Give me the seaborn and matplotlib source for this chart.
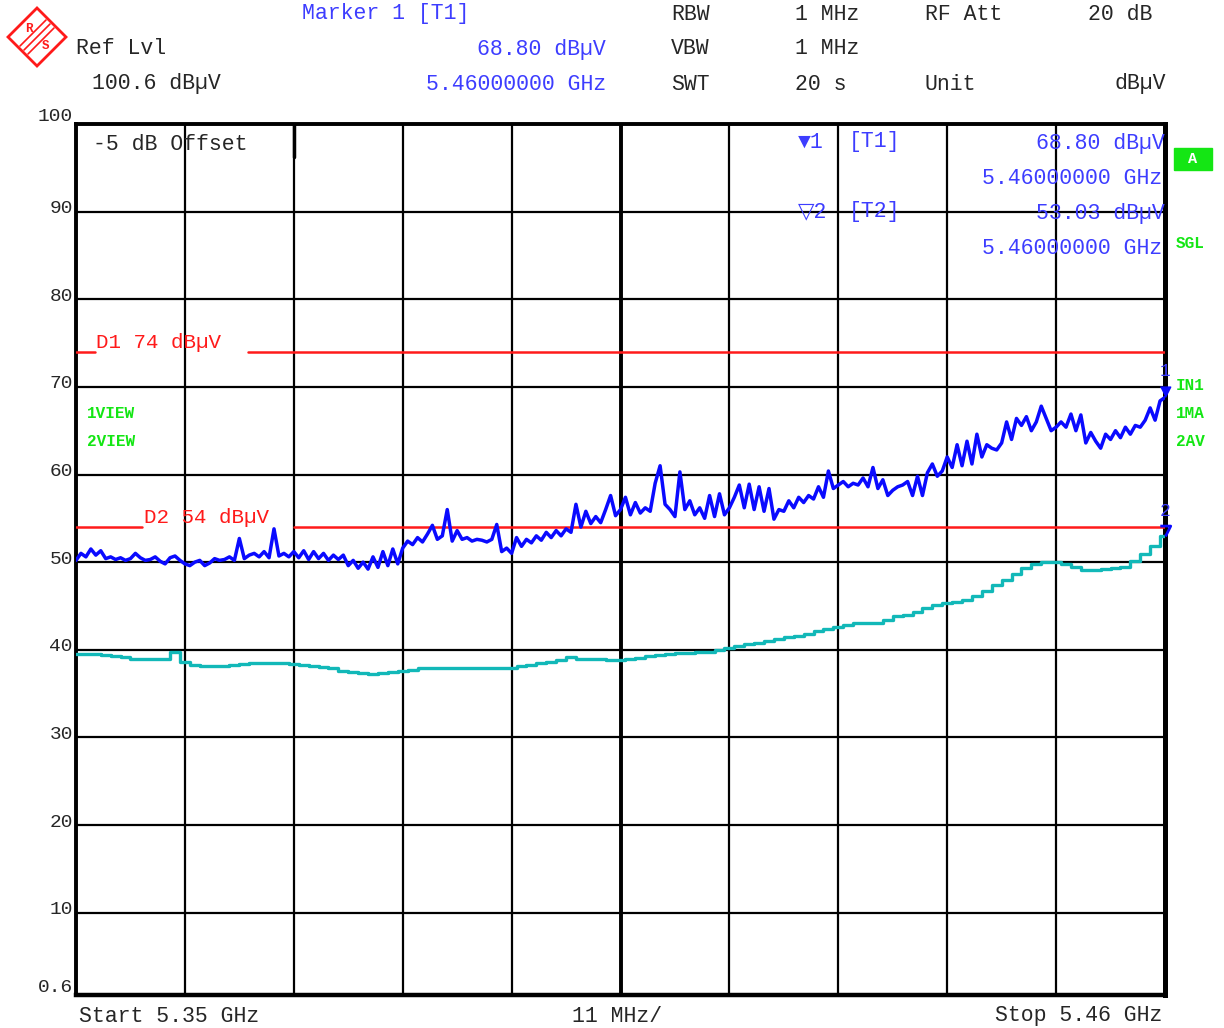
"""
Spectrum analyzer screen shot, 5.35 - 5.46 GHz band edge scan (peak + average).
"""

import numpy as np
import pandas as pd
import seaborn as sns
import matplotlib.pyplot as plt
from matplotlib.patches import Polygon, Rectangle


# sweep: 5350 .. 5460 MHz
freq_peak = np.linspace(5350, 5460, 221)      # 0.5 MHz per point
peak_db = [
    50.2, 51.0, 50.6, 51.5, 50.8, 51.3, 50.4, 50.6, 50.3, 50.5, 50.2, 50.4, 51.0, 50.5, 50.2, 50.3, 50.6, 50.1, 49.8, 50.5, 50.7, 50.2,
    49.8, 49.6, 50.0, 50.2, 49.6, 49.9, 50.4, 50.2, 50.3, 50.6, 50.2, 52.7, 50.4, 50.8, 51.0, 50.6, 51.2, 50.5, 53.8, 50.7, 51.0, 50.6,
    51.2, 50.5, 51.3, 50.3, 51.2, 50.4, 51.0, 50.2, 50.8, 50.3, 50.8, 49.6, 50.2, 49.3, 50.0, 49.2, 50.6, 49.4, 51.2, 49.6, 51.5, 49.8,
    51.6, 52.4, 52.0, 52.8, 52.3, 53.2, 54.2, 52.6, 53.0, 56.0, 52.4, 53.6, 52.6, 52.8, 52.4, 52.6, 52.5, 52.3, 52.6, 54.3, 51.2, 51.6,
    51.0, 52.8, 51.8, 52.6, 52.2, 53.0, 52.5, 53.4, 52.8, 53.6, 53.0, 53.8, 53.4, 56.6, 54.0, 55.8, 54.4, 55.2, 54.5, 56.0, 57.6, 55.3,
    56.0, 57.4, 55.4, 56.8, 55.6, 56.2, 55.8, 59.0, 61.0, 56.6, 56.0, 55.2, 60.3, 56.0, 57.0, 55.4, 56.2, 55.0, 57.6, 55.2, 57.8, 55.4,
    56.2, 57.4, 58.8, 56.2, 58.9, 56.0, 58.6, 55.8, 58.4, 54.9, 56.0, 55.8, 57.0, 56.2, 57.4, 56.8, 57.6, 57.2, 58.6, 57.4, 60.4, 58.4,
    58.8, 59.2, 58.6, 59.0, 58.8, 59.6, 58.6, 60.8, 58.4, 59.4, 57.6, 58.2, 58.6, 58.8, 59.2, 57.6, 59.8, 57.6, 60.2, 61.2, 59.8, 60.4,
    62.0, 60.8, 63.4, 61.0, 63.8, 61.2, 64.6, 62.0, 63.4, 63.0, 62.8, 63.6, 66.0, 64.0, 66.4, 65.6, 66.6, 65.0, 66.0, 67.8, 66.4, 65.0,
    65.4, 66.0, 65.4, 66.9, 65.0, 66.8, 63.6, 64.8, 63.8, 63.0, 64.6, 64.0, 65.0, 64.2, 65.4, 64.6, 65.6, 65.4, 66.2, 67.6, 66.2, 68.4, 68.8,
]

freq_avg = np.arange(5350, 5461, 1)           # 1 MHz per point
avg_db = [
    39.5, 39.5, 39.5, 39.4, 39.3, 39.2, 39.0, 38.9, 38.9, 38.9, 39.8,
    38.6, 38.3, 38.2, 38.2, 38.2, 38.3, 38.4, 38.5, 38.5, 38.5, 38.5,
    38.4, 38.3, 38.2, 38.0, 37.9, 37.6, 37.5, 37.3, 37.2, 37.3, 37.5,
    37.6, 37.7, 37.9, 37.9, 37.9, 37.9, 37.9, 37.9, 37.9, 37.9, 37.9,
    37.9, 38.1, 38.3, 38.5, 38.6, 38.8, 39.2, 38.9, 38.9, 38.9, 38.8,
    38.8, 38.9, 39.1, 39.3, 39.4, 39.5, 39.6, 39.6, 39.7, 39.8, 40.0,
    40.2, 40.4, 40.6, 40.8, 41.0, 41.2, 41.4, 41.6, 41.8, 42.1, 42.4,
    42.6, 42.8, 43.0, 43.0, 43.1, 43.4, 43.8, 44.0, 44.3, 44.8, 45.1,
    45.3, 45.5, 45.7, 46.1, 46.7, 47.4, 48.0, 48.7, 49.3, 49.8, 50.0,
    50.0, 49.8, 49.4, 49.1, 49.1, 49.2, 49.3, 49.5, 50.1, 50.9, 51.8,
    53.0,
]

grid_freq = np.arange(5350, 5461, 11)         # 11 MHz / div
level_ticks = [10, 20, 30, 40, 50, 60, 70, 80, 90]
limit_d1 = 74
limit_d2 = 54
marker_freq = 5460
marker1_db = 68.80
marker2_db = 53.03

MONO = 'Liberation Mono'
BLUE_TXT = '#3d3dff'
BLUE = '#0a0aff'
CYAN = '#12b8b8'
RED = '#ff1a1a'
GREEN = '#14e614'
DARK = '#262626'
HDR_FS = 15.5


def fx(px):
    return px / 1224.0


def fy(py):
    return 1 - py / 1028.0


sns.set_theme(style='white')
plt.rcParams['font.family'] = [MONO, 'DejaVu Sans']

fig = plt.figure(figsize=(12.24, 10.28), dpi=100)
ax = fig.add_axes([fx(76), fy(995), fx(1165) - fx(76), fy(124) - fy(995)])

df_pk = pd.DataFrame({'freq': freq_peak, 'level': peak_db})
df_av = pd.DataFrame({'freq': freq_avg, 'level': avg_db})

sns.lineplot(data=df_av, x='freq', y='level', ax=ax, color=CYAN, lw=2.4,
             drawstyle='steps-mid', zorder=4)
sns.lineplot(data=df_pk, x='freq', y='level', ax=ax, color=BLUE, lw=2.5, zorder=5)

ax.set_xlim(5350, 5460)
ax.set_ylim(0.6, 100)
ax.set_xticks(grid_freq)
ax.set_yticks(level_ticks + [100])
ax.set_xticklabels([])
ax.set_yticklabels([])
ax.tick_params(length=0)
ax.set_xlabel('')
ax.set_ylabel('')
ax.grid(True, color='black', lw=1.6)
ax.axvline(5405, color='black', lw=2.8, zorder=1)
for s in ax.spines.values():
    s.set_color('black')
    s.set_linewidth(2.8)
ax.spines['bottom'].set_linewidth(3.2)
ax.spines['right'].set_linewidth(3.6)

# display lines D1 / D2, broken where the label sits
ax.axhline(limit_d1, xmin=0, xmax=0.017, color=RED, lw=1.8, zorder=3)
ax.axhline(limit_d1, xmin=0.158, xmax=1, color=RED, lw=1.8, zorder=3)
ax.axhline(limit_d2, xmin=0, xmax=0.061, color=RED, lw=1.8, zorder=3)
ax.axhline(limit_d2, xmin=0.200, xmax=1, color=RED, lw=1.8, zorder=3)
ax.text(0.0185, limit_d1, 'D1 74 dBµV', transform=ax.get_yaxis_transform(),
        color=RED, fontsize=15, va='bottom', ha='left')
ax.text(0.062, limit_d2, 'D2 54 dBµV', transform=ax.get_yaxis_transform(),
        color=RED, fontsize=15, va='bottom', ha='left')

# level labels, a little above the grid lines
for v in level_ticks:
    ax.annotate(str(v), xy=(0, v), xycoords=('axes fraction', 'data'),
                xytext=(-3, 3), textcoords='offset pixels',
                ha='right', va='center', fontsize=14, color=DARK)
ax.annotate('100', xy=(0, 100), xycoords=('axes fraction', 'data'),
            xytext=(-3, 7), textcoords='offset pixels',
            ha='right', va='center', fontsize=14, color=DARK)
ax.annotate('0.6', xy=(0, 0.6), xycoords=('axes fraction', 'data'),
            xytext=(-3, 7), textcoords='offset pixels',
            ha='right', va='center', fontsize=14, color=DARK)

# trace markers at the stop frequency (tip on the value)
tri = [(-0.55, 1.1), (0.55, 1.1), (0, 0)]
ax.plot([marker_freq], [marker1_db], marker=tri, ms=15, color=BLUE,
        clip_on=False, zorder=6, ls='none')
ax.plot([marker_freq], [marker2_db], marker=tri, ms=15, mfc='none', mec=BLUE,
        mew=2, clip_on=False, zorder=6, ls='none')
ax.annotate('1', xy=(marker_freq, marker1_db), xytext=(0, 26), textcoords='offset pixels',
            ha='center', va='center', color=BLUE_TXT, fontsize=13)
ax.annotate('2', xy=(marker_freq, marker2_db), xytext=(0, 24), textcoords='offset pixels',
            ha='center', va='center', color=BLUE_TXT, fontsize=13)

# marker field inside the diagram
ax.text(0.0155, 0.988, '-5 dB Offset', transform=ax.transAxes, fontsize=HDR_FS,
        color=DARK, ha='left', va='top')
ax.plot([0.2, 0.2], [1, 0.962], transform=ax.transAxes, color='black', lw=2.5)
mk_txt = [
    (798, 142, '▼1', 'left'), (849, 142, '[T1]', 'left'),
    (1165, 143, '68.80 dBµV', 'right'), (1162, 178, '5.46000000 GHz', 'right'),
    (798, 212, '▽2', 'left'), (849, 212, '[T2]', 'left'),
    (1165, 213, '53.03 dBµV', 'right'), (1162, 248, '5.46000000 GHz', 'right'),
]
for px, py, t, ha in mk_txt:
    fig.text(fx(px), fy(py), t, color=BLUE_TXT, fontsize=HDR_FS, ha=ha, va='center', zorder=10)

# green status labels
for px, py, t in [(87, 414, '1VIEW'), (87, 442, '2VIEW'), (1176, 243, 'SGL'),
                  (1176, 385, 'IN1'), (1176, 414, '1MA'), (1176, 442, '2AV')]:
    fig.text(fx(px), fy(py), t, color=GREEN, fontsize=11.5, fontweight='bold',
             ha='left', va='center')
fig.add_artist(Rectangle((fx(1174), fy(170)), fx(38), 22 / 1028.0,
                         transform=fig.transFigure, color=GREEN))
fig.text(fx(1193), fy(159), 'A', color='white', fontsize=11, fontweight='bold',
         ha='center', va='center')

# header
hdr = [
    (302, 14, 'Marker 1 [T1]', 'left', BLUE_TXT),
    (76, 49, 'Ref Lvl', 'left', DARK),
    (606, 49, '68.80 dBµV', 'right', BLUE_TXT),
    (92, 84, '100.6 dBµV', 'left', DARK),
    (606, 84, '5.46000000 GHz', 'right', BLUE_TXT),
    (671, 14, 'RBW', 'left', DARK), (795, 14, '1 MHz', 'left', DARK),
    (925, 14, 'RF Att', 'left', DARK), (1152, 14, '20 dB', 'right', DARK),
    (671, 49, 'VBW', 'left', DARK), (795, 49, '1 MHz', 'left', DARK),
    (671, 84, 'SWT', 'left', DARK), (795, 84, '20 s', 'left', DARK),
    (925, 84, 'Unit', 'left', DARK), (1166, 84, 'dBµV', 'right', DARK),
]
for px, py, t, ha, c in hdr:
    fig.text(fx(px), fy(py), t, color=c, fontsize=HDR_FS, ha=ha, va='center')

# footer
fig.text(fx(79), fy(1016), 'Start 5.35 GHz', fontsize=HDR_FS, color=DARK, ha='left', va='center')
fig.text(fx(572), fy(1016), '11 MHz/', fontsize=HDR_FS, color=DARK, ha='left', va='center')
fig.text(fx(1162), fy(1016), 'Stop 5.46 GHz', fontsize=HDR_FS, color=DARK, ha='right', va='center')

# R&S logo: red diamond with stripes
cx, cy, r = 37, 37, 29
dia = [(fx(cx), fy(cy - r)), (fx(cx + r), fy(cy)), (fx(cx), fy(cy + r)), (fx(cx - r), fy(cy))]
fig.add_artist(Polygon(dia, closed=True, fill=False, ec=RED, lw=2, transform=fig.transFigure))
for d in (-4, 0, 4):
    fig.add_artist(plt.Line2D([fx(cx + 13 + d), fx(cx - 13 + d)], [fy(cy - 13 + d), fy(cy + 13 + d)],
                              color=RED, lw=1.2, transform=fig.transFigure))
fig.text(fx(29), fy(29), 'R', color=RED, fontsize=9, fontweight='bold', ha='center', va='center')
fig.text(fx(46), fy(46), 'S', color=RED, fontsize=9, fontweight='bold', ha='center', va='center')

fig.savefig('out.png', dpi=100, facecolor='white')
